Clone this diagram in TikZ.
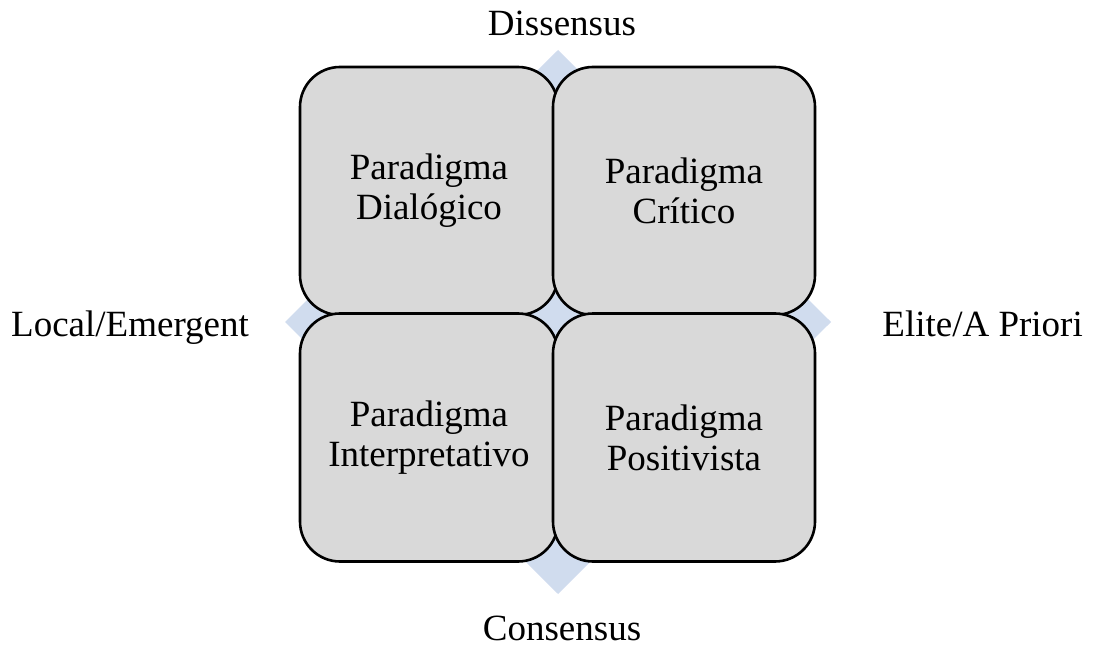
\documentclass[tikz,border=0pt]{standalone}
\usepackage{fontspec}
\setmainfont{Liberation Serif}
\begin{document}
\begin{tikzpicture}[x=1pt,y=-1pt,
  quadrant/.style={draw=black, line width=2.6pt, fill=boxgray,
    rounded corners=40pt, minimum width=258pt, minimum height=248pt,
    inner sep=0pt, outer sep=0pt, align=center,
    font=\fontsize{37}{40}\selectfont},
  axislabel/.style={inner sep=0pt, font=\fontsize{37}{40}\selectfont}]
  \definecolor{boxgray}{HTML}{D9D9D9}
  \definecolor{axisblue}{HTML}{D0DCEE}
  \useasboundingbox (0,0) rectangle (1094,652);
  % diamond of the two axes behind the quadrants
  \fill[axisblue] (558,50) -- (831,322) -- (558,594) -- (285,322) -- cycle;
  % the four quadrants
  \node[quadrant] (dialogico) at (429,191) {Paradigma\\Dialógico};
  \node[quadrant, minimum width=262pt] (critico) at (684,191) {Paradigma\\Crítico};
  \node[quadrant] (interpretativo) at (429,437.5) {Paradigma\\Interpretativo};
  \node[quadrant, minimum width=262pt] (positivista) at (684,437.5) {Paradigma\\Positivista};
  % axis end labels
  \node[axislabel, anchor=base] (dissensus) at (562,36) {Dissensus};
  \node[axislabel, anchor=base] (consensus) at (562,640) {Consensus};
  \node[axislabel, anchor=base west] (local) at (11,336) {Local/Emergent};
  \node[axislabel, anchor=base east] (elite) at (1083,336) {Elite/A Priori};
\end{tikzpicture}
\end{document}
